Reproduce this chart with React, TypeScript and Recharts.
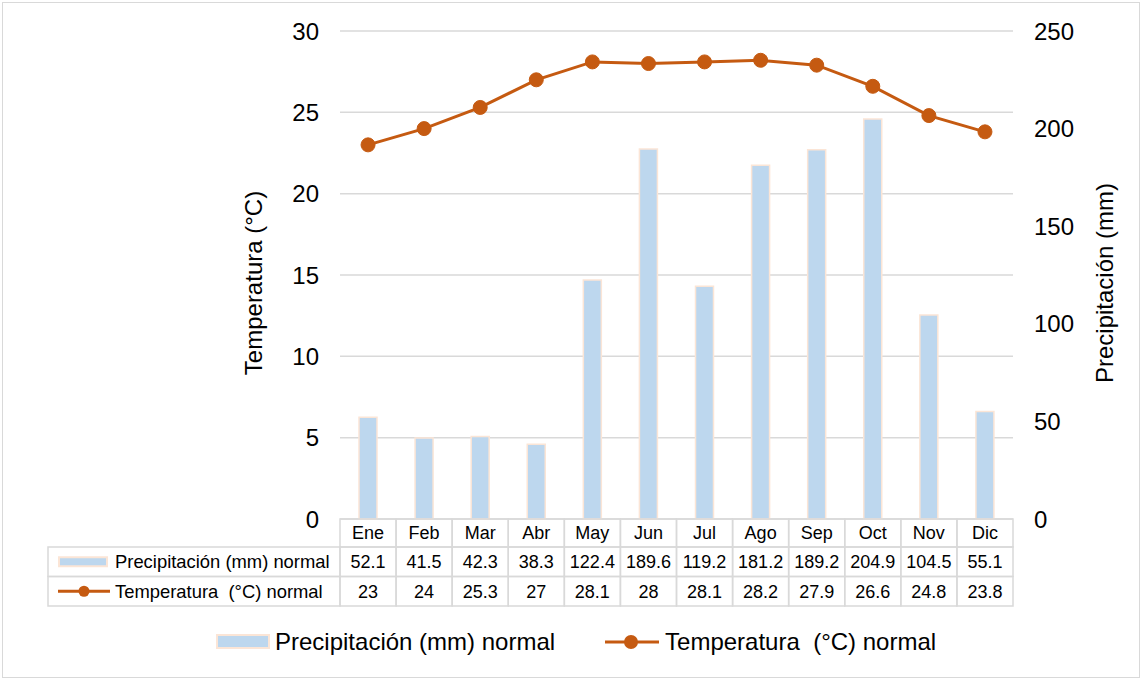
import React from "react";
import {
  ComposedChart,
  Bar,
  Line,
  XAxis,
  YAxis,
  CartesianGrid,
  Label,
} from "recharts";

const months = ["Ene", "Feb", "Mar", "Abr", "May", "Jun", "Jul", "Ago", "Sep", "Oct", "Nov", "Dic"];
const precipitation = [52.1, 41.5, 42.3, 38.3, 122.4, 189.6, 119.2, 181.2, 189.2, 204.9, 104.5, 55.1];
const temperature = [23, 24, 25.3, 27, 28.1, 28, 28.1, 28.2, 27.9, 26.6, 24.8, 23.8];
const tempTicks = [0, 5, 10, 15, 20, 25, 30];
const precipTicks = [0, 50, 100, 150, 200, 250];
const precipName = "Precipitación (mm) normal";
const tempName = "Temperatura  (°C) normal";
const tempAxisTitle = "Temperatura (°C)";
const precipAxisTitle = "Precipitación (mm)";

const W = 1142;
const H = 679;
const PLOT_LEFT = 340;
const PLOT_RIGHT = 1013;
const PLOT_TOP = 31;
const PLOT_BOTTOM = 519;
const BW = (PLOT_RIGHT - PLOT_LEFT) / months.length;
const TABLE_LEFT = 48;

const FONT = '"Liberation Sans", Arial, sans-serif';
const BAR_FILL = "#bdd7ee";
const BAR_STROKE = "#fbe5d6";
const LINE_COLOR = "#c55a11";
const GRID = "#d9d9d9";

// filas de la tabla de datos
const ROW_H = [28, 29.5, 29.5];

const chartData = months.map((m, i) => ({
  month: m,
  precip: precipitation[i],
  temp: temperature[i],
}));

const TableTick = (props: any) => {
  const { x, y, payload } = props;
  const i = months.indexOf(payload.value);
  const left = x - BW / 2;
  const y0 = y;
  const y1 = y0 + ROW_H[0];
  const y2 = y1 + ROW_H[1];
  const y3 = y2 + ROW_H[2];
  const txt = { fontSize: 18, fontFamily: FONT, fill: "#000" };

  return (
    <g>
      <rect x={left} y={y0} width={BW} height={ROW_H[0]} fill="none" stroke={GRID} strokeWidth={1.5} />
      <rect x={left} y={y1} width={BW} height={ROW_H[1]} fill="none" stroke={GRID} strokeWidth={1.5} />
      <rect x={left} y={y2} width={BW} height={ROW_H[2]} fill="none" stroke={GRID} strokeWidth={1.5} />
      <text x={x} y={(y0 + y1) / 2} dy="0.36em" textAnchor="middle" {...txt}>
        {months[i]}
      </text>
      <text x={x} y={(y1 + y2) / 2} dy="0.36em" textAnchor="middle" {...txt}>
        {precipitation[i]}
      </text>
      <text x={x} y={(y2 + y3) / 2} dy="0.36em" textAnchor="middle" {...txt}>
        {temperature[i]}
      </text>
      {i === 0 && (
        <g>
          <rect x={TABLE_LEFT} y={y1} width={left - TABLE_LEFT} height={ROW_H[1]} fill="none" stroke={GRID} strokeWidth={1.5} />
          <rect x={TABLE_LEFT} y={y2} width={left - TABLE_LEFT} height={ROW_H[2]} fill="none" stroke={GRID} strokeWidth={1.5} />
          <rect x={59} y={(y1 + y2) / 2 - 4.5} width={48} height={9} fill={BAR_FILL} stroke={BAR_STROKE} strokeWidth={2} />
          <line x1={58} x2={110} y1={(y2 + y3) / 2} y2={(y2 + y3) / 2} stroke={LINE_COLOR} strokeWidth={3} />
          <circle cx={84} cy={(y2 + y3) / 2} r={5.5} fill={LINE_COLOR} />
          <text x={115} y={(y1 + y2) / 2} dy="0.36em" style={{ whiteSpace: "pre" }} {...txt} fontSize={18.4}>
            {precipName}
          </text>
          <text x={115} y={(y2 + y3) / 2} dy="0.36em" style={{ whiteSpace: "pre" }} {...txt} fontSize={18.4}>
            {tempName}
          </text>
        </g>
      )}
    </g>
  );
};

const axisTick = { fill: "#000", fontSize: 24, fontFamily: FONT };

const App: React.FC = () => {
  return (
    <div
      style={{
        position: "absolute",
        left: 0,
        top: 0,
        width: W,
        height: H,
        background: "#fff",
        fontFamily: FONT,
      }}
    >
      <div
        style={{
          position: "absolute",
          left: 2,
          top: 2,
          width: W - 6,
          height: H - 5,
          border: `1px solid ${GRID}`,
        }}
      />
      <ComposedChart
        width={W}
        height={H}
        data={chartData}
        margin={{
          top: PLOT_TOP,
          left: PLOT_LEFT - 100,
          right: W - PLOT_RIGHT - 100,
          bottom: H - PLOT_BOTTOM - 87,
        }}
        barCategoryGap={0}
      >
        <CartesianGrid
          yAxisId="left"
          vertical={false}
          stroke={GRID}
          strokeWidth={1.5}
        />
        <XAxis
          dataKey="month"
          height={87}
          axisLine={false}
          tickLine={false}
          tickSize={0}
          tickMargin={0}
          interval={0}
          tick={<TableTick />}
        />
        <YAxis
          yAxisId="left"
          width={100}
          domain={[0, 30]}
          ticks={tempTicks}
          axisLine={false}
          tickLine={false}
          tickSize={0}
          tickMargin={21}
          tick={axisTick}
        >
          <Label
            content={(p: any) => {
              const vb = p.viewBox;
              const cx = vb.x + 22;
              const cy = 283;
              return (
                <text
                  x={cx}
                  y={cy}
                  transform={`rotate(-90 ${cx} ${cy})`}
                  textAnchor="middle"
                  fontSize={24}
                  fontFamily={FONT}
                  fill="#000"
                >
                  {tempAxisTitle}
                </text>
              );
            }}
          />
        </YAxis>
        <YAxis
          yAxisId="right"
          orientation="right"
          width={100}
          domain={[0, 250]}
          ticks={precipTicks}
          axisLine={false}
          tickLine={false}
          tickSize={0}
          tickMargin={21}
          tick={axisTick}
        >
          <Label
            content={(p: any) => {
              const vb = p.viewBox;
              const cx = vb.x + 100;
              const cy = 283;
              return (
                <text
                  x={cx}
                  y={cy}
                  transform={`rotate(-90 ${cx} ${cy})`}
                  textAnchor="middle"
                  fontSize={24}
                  fontFamily={FONT}
                  fill="#000"
                >
                  {precipAxisTitle}
                </text>
              );
            }}
          />
        </YAxis>
        <Bar
          yAxisId="right"
          dataKey="precip"
          name={precipName}
          barSize={18}
          fill={BAR_FILL}
          stroke={BAR_STROKE}
          strokeWidth={1.5}
          isAnimationActive={false}
        />
        <Line
          yAxisId="left"
          dataKey="temp"
          name={tempName}
          type="linear"
          stroke={LINE_COLOR}
          strokeWidth={3}
          dot={{ r: 7, fill: LINE_COLOR, stroke: LINE_COLOR, strokeWidth: 1 }}
          activeDot={false}
          isAnimationActive={false}
        />
      </ComposedChart>

      {/* leyenda inferior */}
      <div
        style={{
          position: "absolute",
          left: 215,
          top: 626,
          height: 32,
          display: "flex",
          alignItems: "center",
          fontSize: 24,
          color: "#000",
          whiteSpace: "pre",
        }}
      >
        <svg width={56} height={20} style={{ marginRight: 4 }}>
          <rect x={2} y={3} width={52} height={13} fill={BAR_FILL} stroke={BAR_STROKE} strokeWidth={2} />
        </svg>
        <span>{precipName}</span>
        <svg width={60} height={20} style={{ marginLeft: 48, marginRight: 2 }}>
          <line x1={2} x2={56} y1={10} y2={10} stroke={LINE_COLOR} strokeWidth={3} />
          <circle cx={28} cy={10} r={7} fill={LINE_COLOR} />
        </svg>
        <span>{tempName}</span>
      </div>
    </div>
  );
};

export default App;
